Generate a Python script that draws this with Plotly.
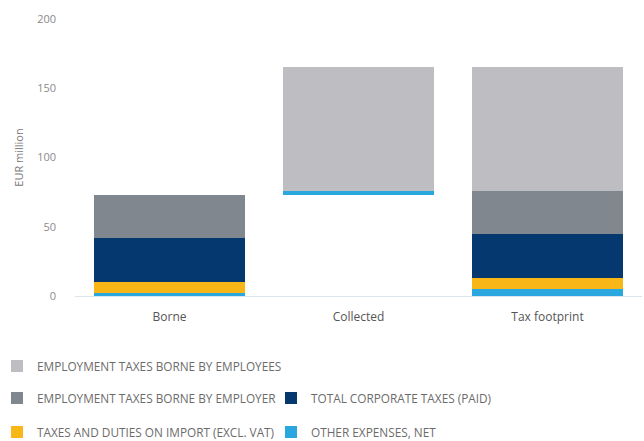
import plotly.graph_objects as go

categories = ["Borne", "Collected", "Tax footprint"]
other_expenses = [2, 3, 5]
import_taxes = [8, 0, 8]
corporate_taxes = [32, 0, 32]
employer_taxes = [31, 0, 31]
employee_taxes = [0, 89, 89]
y_ticks = [0, 50, 100, 150, 200]

borne_total = other_expenses[0] + import_taxes[0] + corporate_taxes[0] + employer_taxes[0] + employee_taxes[0]
invisible_base = [0, borne_total, 0]

series = [
    ("OTHER EXPENSES, NET", other_expenses, "#2aa7df", "legend5"),
    ("TAXES AND DUTIES ON IMPORT (EXCL. VAT)", import_taxes, "#f9b717", "legend4"),
    ("TOTAL CORPORATE TAXES (PAID)", corporate_taxes, "#063870", "legend3"),
    ("EMPLOYMENT TAXES BORNE BY EMPLOYER", employer_taxes, "#80878f", "legend2"),
    ("EMPLOYMENT TAXES BORNE BY EMPLOYEES", employee_taxes, "#bebec2", "legend"),
]

fig = go.Figure()
fig.add_trace(go.Bar(x=categories, y=invisible_base, marker_color="rgba(0,0,0,0)",
                     marker_line_width=0, showlegend=False, hoverinfo="skip"))
for name, vals, color, lg in series:
    fig.add_trace(go.Bar(x=categories, y=vals, name=name, marker_color=color,
                         marker_line_width=0, legend=lg))

FONT = "Open Sans"
L, R, T, B = 75, 2, 19, 145
W, H = 644, 441
pw, ph = W - L - R, H - T - B

def lx(px):
    return (px - L) / pw

def ly(py):
    return (H - B - py) / ph

leg_common = dict(orientation="h", xanchor="left", yanchor="middle",
                  font=dict(family=FONT, size=11.8, color="#6b6b6b"),
                  bgcolor="rgba(0,0,0,0)", borderwidth=0, itemclick=False)

fig.update_layout(
    width=W, height=H,
    margin=dict(l=L, r=R, t=T, b=B, autoexpand=False),
    barmode="stack", bargap=0.2,
    plot_bgcolor="white", paper_bgcolor="white",
    font=dict(family=FONT, color="#666666"),
    xaxis=dict(showline=True, linecolor="#dde5ea", linewidth=1, ticks="",
               ticklabelstandoff=10,
               tickfont=dict(family=FONT, size=12, color="#555555"),
               showgrid=False, fixedrange=True),
    yaxis=dict(range=[0, 200], tickvals=y_ticks, showgrid=False, zeroline=False,
               showline=False, ticks="", ticklabelstandoff=18, fixedrange=True,
               tickfont=dict(family=FONT, size=11, color="#8a8a8a"),
               title=dict(text="EUR million", font=dict(family=FONT, size=11, color="#7a7a7a"),
                          standoff=11)),
    legend=dict(x=lx(-3), y=ly(366), **leg_common),
    legend2=dict(x=lx(-3), y=ly(398), **leg_common),
    legend3=dict(x=lx(271), y=ly(398), **leg_common),
    legend4=dict(x=lx(-3), y=ly(432), **leg_common),
    legend5=dict(x=lx(271), y=ly(432), **leg_common),
)

fig.write_html("out.html", config={"displayModeBar": False},
               post_script="document.body.style.margin='0';document.body.style.overflow='hidden';")
